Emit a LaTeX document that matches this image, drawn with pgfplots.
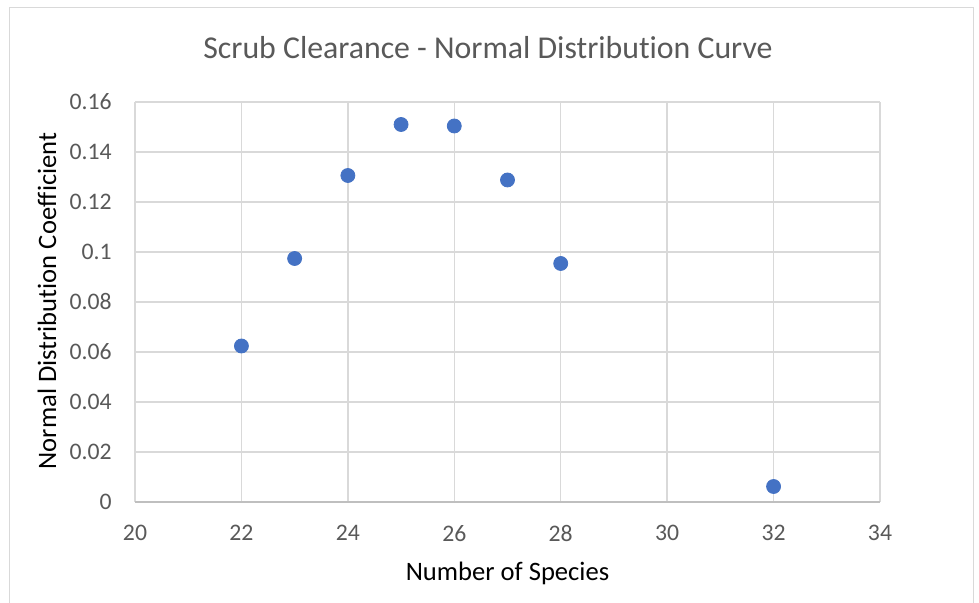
\documentclass[border=0pt]{standalone}
\usepackage{pgfplots}
\pgfplotsset{compat=1.18}
\usepackage{fontspec}
\setmainfont{Carlito}[Ligatures=NoCommon]
\definecolor{txt}{HTML}{595959}
\definecolor{grd}{HTML}{D9D9D9}
\definecolor{axl}{HTML}{BFBFBF}
\definecolor{pt}{HTML}{4472C4}
\begin{document}
\begin{tikzpicture}[x=0.5pt,y=0.5pt]
\useasboundingbox (0,0) rectangle (979,603);
\fill[white] (0,0) rectangle (979,603);
\draw[grd, line width=0.75pt] (9.5,-20) -- (9.5,595.5) -- (973.5,595.5) -- (973.5,-20);
\node[txt, font=\fontsize{15.9}{19}\selectfont] at (488,555) {Scrub Clearance - Normal Distribution Curve};
\node[anchor=base, font=\fontsize{13.3}{16}\selectfont] at (507.5,22) {Number of Species};
\node[anchor=base, rotate=90, font=\fontsize{13.3}{16}\selectfont] at (56,302) {Normal Distribution Coefficient};
\begin{axis}[
  at={(67.5pt,50.5pt)}, anchor=south west,
  scale only axis, width=372.5pt, height=200pt,
  xmin=20, xmax=34, ymin=0, ymax=0.16,
  xtick={20,22,...,34},
  ytick={0,0.02,...,0.16},
  yticklabels={0,0.02,0.04,0.06,0.08,0.1,0.12,0.14,0.16},
  grid=major,
  grid style={grd, line width=0.75pt},
  axis line style={draw=none},
  major tick length=0pt,
  tick style={draw=none},
  /pgf/number format/assume math mode=true,
  tick label style={txt, font=\fontsize{11.85}{14}\selectfont, inner sep=0pt},
  xticklabel style={anchor=north, yshift=-11.5pt},
  yticklabel style={anchor=east, xshift=-11.5pt},
  clip=false,
]
\draw[axl, line width=0.75pt] (axis cs:20,0) -- (axis cs:34,0);
\addplot[only marks, mark=*, mark size=3.5pt, mark options={fill=pt, draw=pt}] coordinates {
(22,0.0624) (23,0.0974) (24,0.1306) (25,0.1510) (26,0.1504) (27,0.1288) (28,0.0954) (32,0.0062)
};
\end{axis}
\end{tikzpicture}
\end{document}
